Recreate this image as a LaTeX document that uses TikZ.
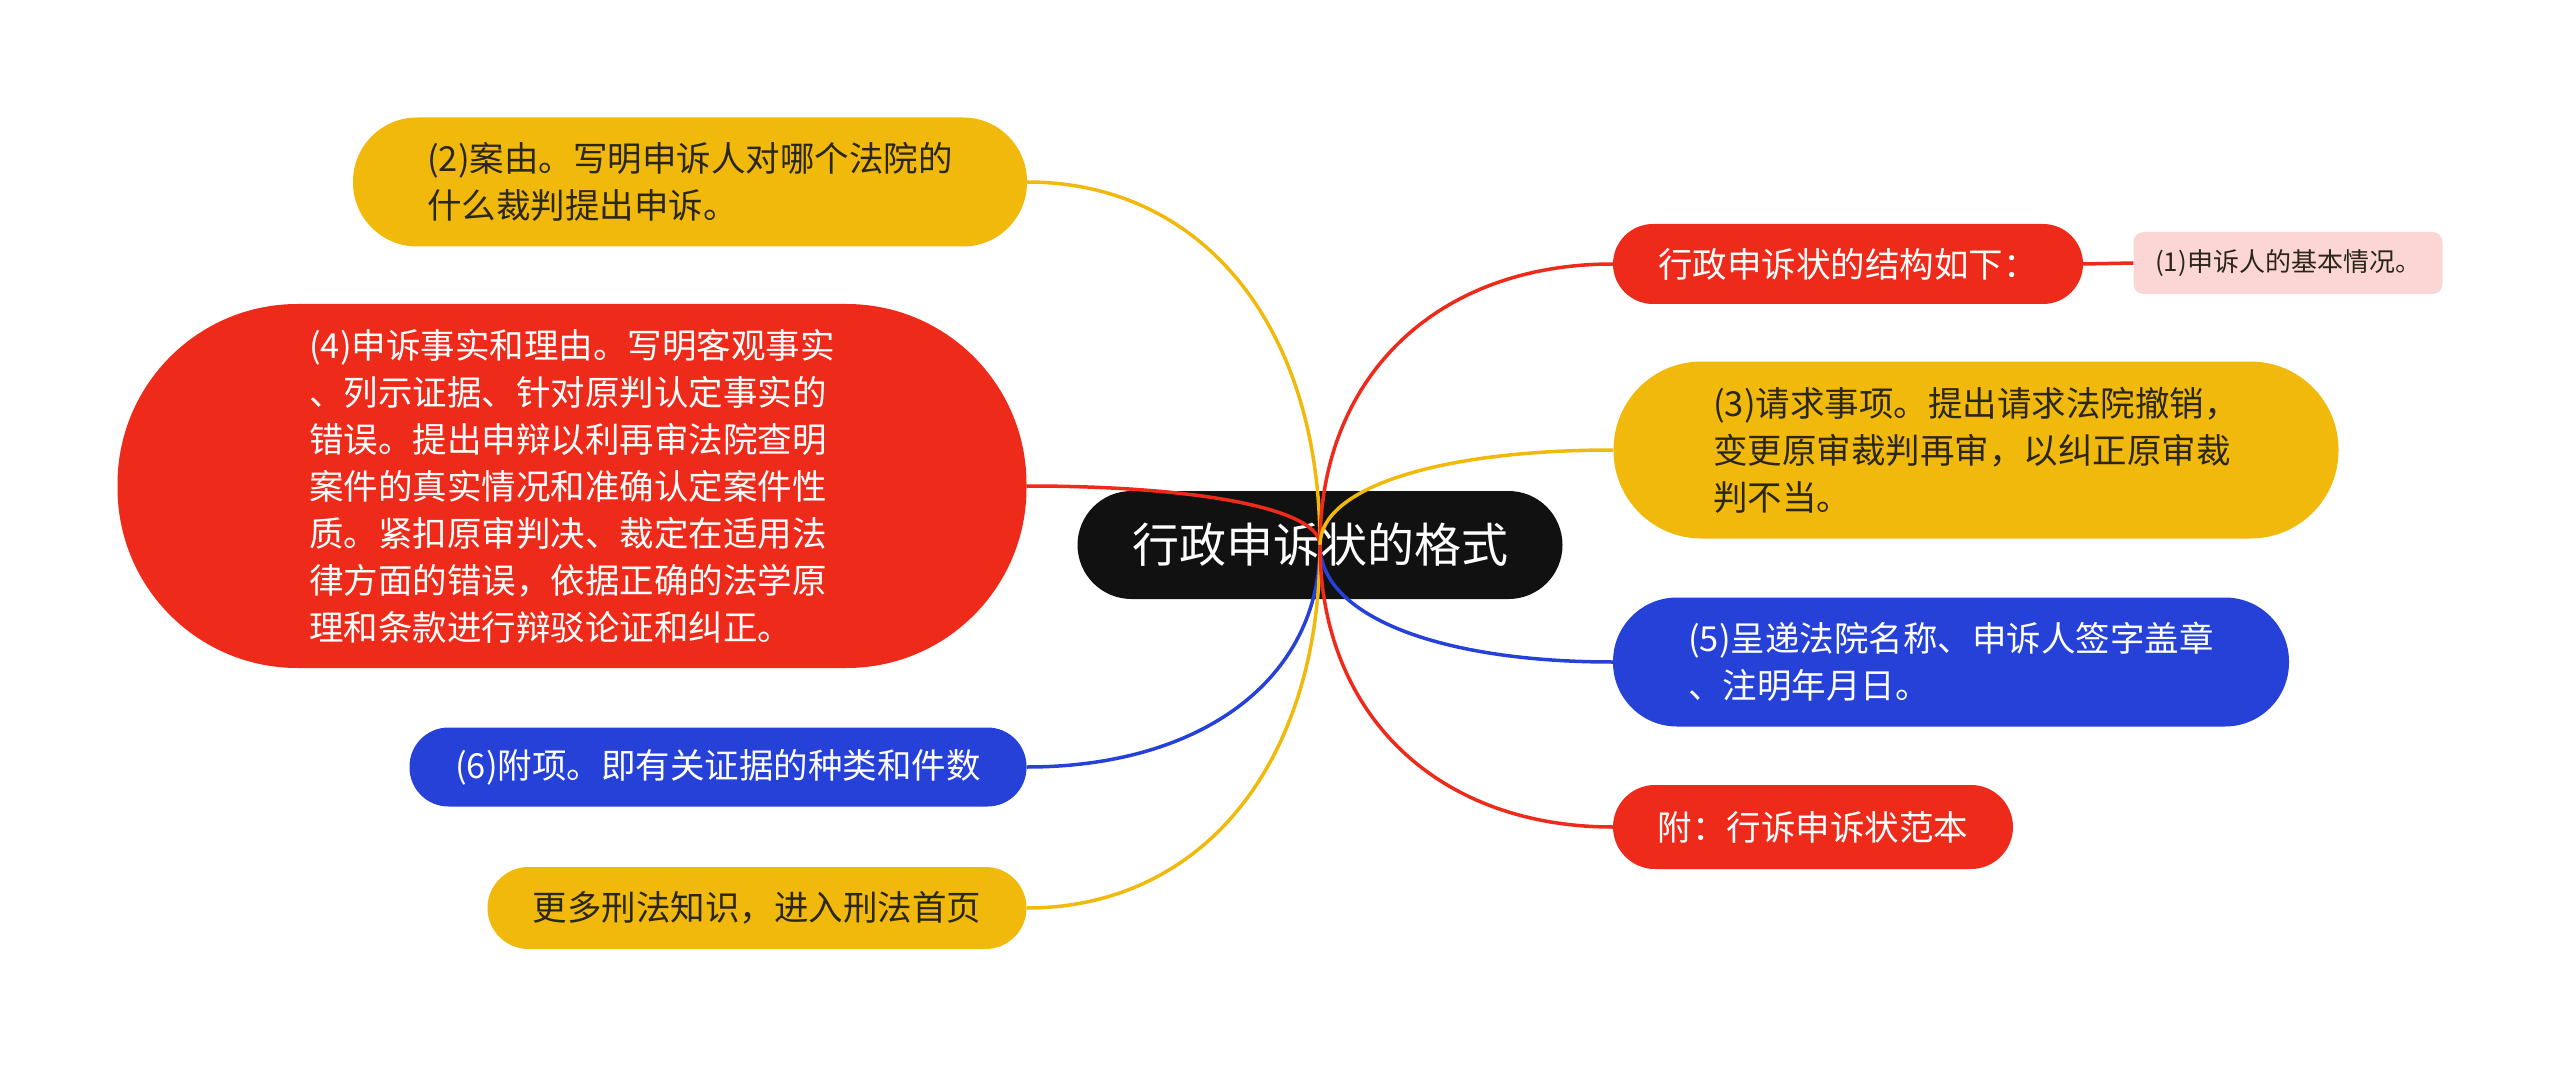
\documentclass[tikz,border=0pt]{standalone}
\usepackage{fontspec}
\setmainfont{Noto Sans CJK SC}
\usetikzlibrary{calc}

\definecolor{mapyellow}{HTML}{F0B90C}
\definecolor{mapred}{HTML}{EE2A1A}
\definecolor{mapblue}{HTML}{2541D8}
\definecolor{mapblack}{HTML}{111111}
\definecolor{mappink}{HTML}{FBD6D4}
\definecolor{mapink}{HTML}{2B2718}

% curved branch from the centre of the root to one side of a topic
\newcommand\branch[3]{\draw[#1, line width=3.5pt] (#2) .. controls ($(#2)!.6!(#2 |- #3)$) and ($(#3)!.6!(#2 |- #3)$) .. (#3);}

\begin{document}
\begin{tikzpicture}[x=1pt, y=-1pt,
  every node/.style={inner sep=0pt, align=left},
  txt/.style={font=\fontsize{34.5}{47}\selectfont},
  yelbox/.style={txt, fill=mapyellow, text=mapink},
  redbox/.style={txt, fill=mapred, text=white},
  bluebox/.style={txt, fill=mapblue, text=white}]
\useasboundingbox (0,0) rectangle (2560,1067);

\node[fill=mapblack, text=white, rounded corners=54, minimum width=485, minimum height=108,
  font=\fontsize{47}{56}\selectfont] (root) at (1320,545) {行政申诉状的格式};

% left side
\node[yelbox, rounded corners=64, minimum width=674, minimum height=129] (n2) at (690,182)
  {(2)案由。写明申诉人对哪个法院的\\什么裁判提出申诉。};
\node[redbox, rounded corners=180, minimum width=909, minimum height=364] (n4) at (572,486)
  {(4)申诉事实和理由。写明客观事实\\、列示证据、针对原判认定事实的\\错误。提出申辩以利再审法院查明\\案件的真实情况和准确认定案件性\\质。紧扣原审判决、裁定在适用法\\律方面的错误，依据正确的法学原\\理和条款进行辩驳论证和纠正。};
\node[bluebox, rounded corners=39, minimum width=617, minimum height=79] (n6) at (718,767)
  {(6)附项。即有关证据的种类和件数};
\node[yelbox, rounded corners=41, minimum width=539, minimum height=82] (more) at (757,908)
  {更多刑法知识，进入刑法首页};

% right side
\node[redbox, rounded corners=40, minimum width=470, minimum height=80] (form) at (1848,264)
  {行政申诉状的结构如下：};
\node[fill=mappink, text=mapink, rounded corners=10, minimum width=309, minimum height=62,
  font=\fontsize{26}{32}\selectfont] (n1) at (2288,263) {(1)申诉人的基本情况。};
\node[yelbox, rounded corners=88, minimum width=725, minimum height=177] (n3) at (1976,450)
  {(3)请求事项。提出请求法院撤销，\\变更原审裁判再审，以纠正原审裁\\判不当。};
\node[bluebox, rounded corners=64, minimum width=676, minimum height=129] (n5) at (1951,662)
  {(5)呈递法院名称、申诉人签字盖章\\、注明年月日。};
\node[redbox, rounded corners=42, minimum width=400, minimum height=84] (sample) at (1813,827)
  {附：行诉申诉状范本};

\branch{mapyellow}{root.center}{n2.east}
\branch{mapred}{root.center}{n4.east}
\branch{mapblue}{root.center}{n6.east}
\branch{mapyellow}{root.center}{more.east}
\branch{mapred}{root.center}{form.west}
\branch{mapyellow}{root.center}{n3.west}
\branch{mapblue}{root.center}{n5.west}
\branch{mapred}{root.center}{sample.west}
\draw[mapred, line width=3.5pt] (form.east) -- (n1.west);
\end{tikzpicture}
\end{document}
